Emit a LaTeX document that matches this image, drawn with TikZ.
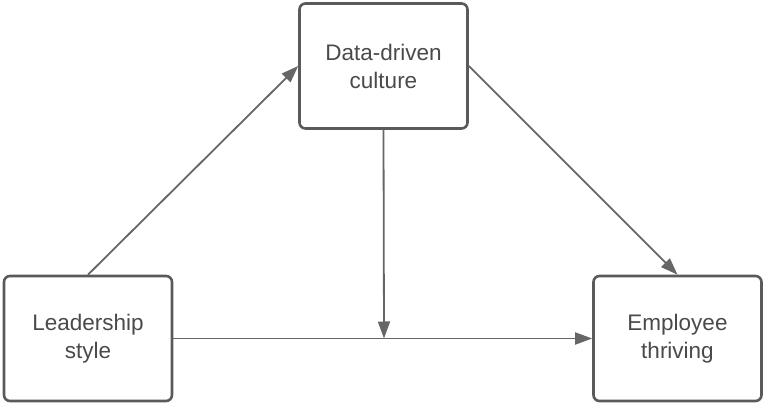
\documentclass[tikz,border=0pt]{standalone}
\usepackage{fontspec}
\setmainfont{Liberation Sans}
\usepackage{xcolor}
\usetikzlibrary{arrows.meta}
\definecolor{boxgray}{HTML}{5A5A5A}
\definecolor{linegray}{HTML}{666666}
\definecolor{textgray}{HTML}{4A4A4A}

\begin{document}
\begin{tikzpicture}[x=1pt,y=-1pt,
    box/.style={draw=boxgray,line width=2.6pt,rounded corners=6pt,fill=white,
        minimum width=168pt,minimum height=125pt,align=center,
        text=textgray,font=\fontsize{22.5}{28}\selectfont},
    link/.style={draw=linegray,line width=1.8pt,
        -{Triangle[length=17pt,width=12pt]}}]
    \useasboundingbox (0,0) rectangle (763,403);
    \node[box] (culture) at (383.5,66) {Data-driven\\culture};
    \node[box] (leader) at (88,338.5) {Leadership\\style};
    \node[box] (thrive) at (677.5,338.5) {Employee\\thriving};
    \coordinate (mid) at (384,338.5);
    \draw[link] (leader.north) -- (culture.west);
    \draw[link] (culture.east) -- (thrive.north);
    \draw[link] (culture.south) -- (mid);
    \draw[link] (leader.east) -- (thrive.west);
\end{tikzpicture}
\end{document}
